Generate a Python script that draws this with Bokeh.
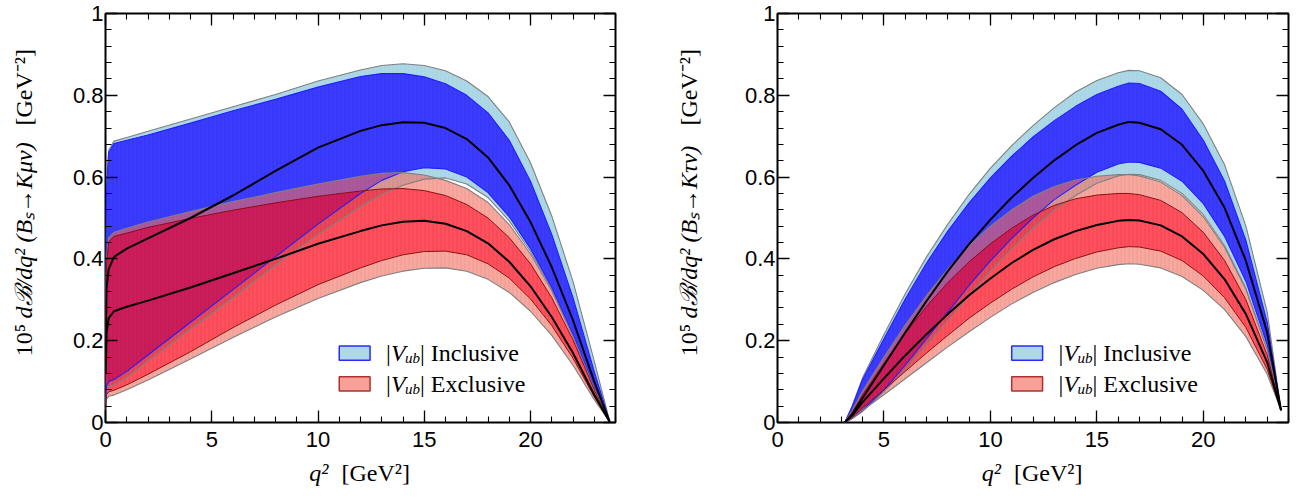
import math
from bokeh.plotting import figure
from bokeh.layouts import row, column
from bokeh.models import (Range1d, Label, FixedTicker, LinearAxis,
                          CustomJSTickFormatter)
from bokeh.embed import file_html
from bokeh.resources import INLINE

# ---------------- data: B_s -> K mu nu (left panel) ----------------
Q_MU = [0.011, 0.05, 0.15, 0.4, 1, 2, 4, 6, 8, 10, 12, 13, 14, 15, 16, 17,
        18, 19, 20, 21, 22, 23, 23.74]
MU_INC_OUT_HI = [0.30, 0.58, 0.665, 0.688, 0.697, 0.712, 0.742, 0.772, 0.802, 0.835, 0.862, 0.873, 0.877, 0.873, 0.860, 0.835, 0.797, 0.735, 0.635, 0.505, 0.345, 0.150, 0.0]
MU_INC_IN_HI = [0.30, 0.575, 0.66, 0.682, 0.69, 0.703, 0.732, 0.762, 0.79, 0.82, 0.846, 0.853, 0.853, 0.845, 0.828, 0.80, 0.757, 0.69, 0.59, 0.46, 0.305, 0.125, 0.0]
MU_INC_MID = [0.18, 0.33, 0.375, 0.405, 0.425, 0.45, 0.50, 0.555, 0.615, 0.672, 0.713, 0.727, 0.734, 0.733, 0.72, 0.693, 0.648, 0.58, 0.49, 0.38, 0.25, 0.10, 0.0]
MU_INC_IN_LO = [0.05, 0.09, 0.1, 0.105, 0.125, 0.165, 0.245, 0.325, 0.405, 0.485, 0.56, 0.592, 0.613, 0.623, 0.62, 0.60, 0.562, 0.503, 0.425, 0.33, 0.215, 0.085, 0.0]
MU_INC_OUT_LO = [0.045, 0.08, 0.088, 0.092, 0.11, 0.15, 0.228, 0.305, 0.385, 0.46, 0.528, 0.558, 0.58, 0.595, 0.598, 0.583, 0.55, 0.493, 0.418, 0.325, 0.21, 0.082, 0.0]
MU_EXC_OUT_HI = [0.20, 0.40, 0.452, 0.465, 0.475, 0.49, 0.516, 0.54, 0.562, 0.583, 0.602, 0.609, 0.611, 0.605, 0.592, 0.572, 0.538, 0.484, 0.412, 0.322, 0.21, 0.083, 0.0]
MU_EXC_IN_HI = [0.19, 0.39, 0.442, 0.455, 0.463, 0.477, 0.499, 0.519, 0.537, 0.553, 0.566, 0.571, 0.572, 0.567, 0.555, 0.533, 0.50, 0.452, 0.388, 0.305, 0.202, 0.08, 0.0]
MU_EXC_MID = [0.12, 0.22, 0.255, 0.272, 0.283, 0.298, 0.33, 0.365, 0.40, 0.437, 0.468, 0.482, 0.491, 0.493, 0.486, 0.468, 0.438, 0.393, 0.333, 0.258, 0.17, 0.068, 0.0]
MU_EXC_IN_LO = [0.035, 0.068, 0.075, 0.079, 0.092, 0.118, 0.173, 0.232, 0.287, 0.337, 0.378, 0.396, 0.41, 0.418, 0.419, 0.41, 0.388, 0.353, 0.302, 0.237, 0.157, 0.063, 0.0]
MU_EXC_OUT_LO = [0.03, 0.058, 0.064, 0.067, 0.08, 0.104, 0.155, 0.208, 0.258, 0.303, 0.342, 0.358, 0.37, 0.377, 0.378, 0.37, 0.35, 0.318, 0.272, 0.213, 0.14, 0.056, 0.0]

# ---------------- data: B_s -> K tau nu (right panel) ----------------
Q_TAU = [3.16, 3.5, 4, 5, 6, 7, 8, 9, 10, 11, 12, 13, 14, 15, 16, 16.5, 17,
         18, 19, 20, 21, 22, 23, 23.65]
TAU_INC_OUT_HI = [0, 0.04, 0.11, 0.215, 0.315, 0.405, 0.485, 0.558, 0.622, 0.677, 0.726, 0.77, 0.808, 0.836, 0.855, 0.861, 0.86, 0.843, 0.802, 0.73, 0.63, 0.48, 0.27, 0.03]
TAU_INC_IN_HI = [0, 0.038, 0.105, 0.205, 0.302, 0.39, 0.468, 0.537, 0.598, 0.651, 0.698, 0.738, 0.773, 0.802, 0.822, 0.83, 0.829, 0.81, 0.766, 0.69, 0.59, 0.445, 0.245, 0.03]
TAU_INC_MID = [0, 0.02, 0.06, 0.14, 0.22, 0.297, 0.37, 0.436, 0.496, 0.55, 0.598, 0.641, 0.678, 0.708, 0.728, 0.735, 0.733, 0.717, 0.679, 0.615, 0.525, 0.395, 0.22, 0.03]
TAU_INC_IN_LO = [0, 0.01, 0.03, 0.08, 0.14, 0.205, 0.27, 0.335, 0.395, 0.45, 0.50, 0.545, 0.58, 0.612, 0.632, 0.637, 0.636, 0.622, 0.59, 0.535, 0.455, 0.345, 0.19, 0.03]
TAU_INC_OUT_LO = [0, 0.009, 0.027, 0.075, 0.13, 0.19, 0.25, 0.31, 0.37, 0.425, 0.475, 0.52, 0.555, 0.585, 0.603, 0.607, 0.606, 0.592, 0.56, 0.508, 0.432, 0.328, 0.18, 0.03]
TAU_EXC_OUT_HI = [0, 0.028, 0.077, 0.16, 0.238, 0.31, 0.375, 0.432, 0.48, 0.52, 0.553, 0.577, 0.593, 0.602, 0.606, 0.606, 0.603, 0.588, 0.555, 0.503, 0.428, 0.325, 0.178, 0.03]
TAU_EXC_IN_HI = [0, 0.024, 0.068, 0.145, 0.218, 0.284, 0.342, 0.393, 0.437, 0.475, 0.507, 0.531, 0.547, 0.556, 0.56, 0.56, 0.557, 0.543, 0.513, 0.465, 0.396, 0.30, 0.165, 0.03]
TAU_EXC_MID = [0, 0.017, 0.05, 0.108, 0.164, 0.216, 0.265, 0.311, 0.352, 0.39, 0.422, 0.448, 0.468, 0.483, 0.493, 0.495, 0.494, 0.482, 0.455, 0.412, 0.35, 0.265, 0.147, 0.03]
TAU_EXC_IN_LO = [0, 0.012, 0.036, 0.08, 0.125, 0.17, 0.213, 0.255, 0.292, 0.326, 0.356, 0.381, 0.401, 0.417, 0.427, 0.43, 0.429, 0.419, 0.396, 0.358, 0.305, 0.232, 0.13, 0.03]
TAU_EXC_OUT_LO = [0, 0.01, 0.03, 0.068, 0.107, 0.146, 0.185, 0.222, 0.257, 0.29, 0.318, 0.342, 0.362, 0.377, 0.386, 0.388, 0.387, 0.378, 0.357, 0.323, 0.276, 0.21, 0.118, 0.03]

# ---------------- axes / labels ----------------
X_MAJOR = [0, 5, 10, 15, 20]
X_MINOR = list(range(0, 25))
Y_MAJOR = [0, 0.2, 0.4, 0.6, 0.8, 1.0]
Y_MINOR = [round(0.04 * i, 2) for i in range(26)]
LEGEND_NAMES = ["Inclusive", "Exclusive"]

LIGHT_BLUE = "#add8e6"
BLUE = "#3c3cff"
RED = "#ff1424"
LIGHT_RED = "#f26e5f"
SERIF = "Liberation Serif"
SANS = "Liberation Sans"
TICK_SIZE = "22px"

H_TOP = 458          # height of the plot row
TOP_B, FRAME_H = 13, 409


def style_axis(ax, labels=True, vertical=False):
    ax.axis_line_color = None
    ax.major_tick_out = 0
    ax.minor_tick_out = 0
    ax.major_tick_in = 12
    ax.minor_tick_in = 6
    ax.major_tick_line_width = 1.3
    ax.minor_tick_line_width = 1.1
    ax.major_tick_line_color = "black"
    ax.minor_tick_line_color = "black"
    ax.axis_label = None
    if labels:
        ax.major_label_text_font = SANS
        ax.major_label_text_font_size = TICK_SIZE
        ax.major_label_text_color = "black"
        ax.major_label_standoff = 2 if vertical else 9
        ax.formatter = CustomJSTickFormatter(
            code="return String(Math.round(tick*10)/10)")
    else:
        ax.major_label_standoff = 0
        ax.formatter = CustomJSTickFormatter(code="return ''")


def add_text(p, text, x, y, size, italic=False, align="left",
             baseline="middle", angle=0.0, dx=0, dy=0):
    p.add_layout(Label(x=x, y=y, text=text, text_font=SERIF,
                       text_font_size=f"{size}px",
                       text_font_style="italic" if italic else "normal",
                       text_align=align, text_baseline=baseline,
                       angle=angle, x_offset=dx, y_offset=dy,
                       text_color="black"))


def blank(width, height):
    f = figure(width=width, height=height, x_range=Range1d(0, width),
               y_range=Range1d(0, height), output_backend="svg",
               toolbar_location=None, min_border=0,
               x_axis_location=None, y_axis_location=None)
    f.grid.visible = False
    f.outline_line_color = None
    return f


def ylabel_fig(width, xc, decay):
    f = blank(width, H_TOP)
    yc = H_TOP - (TOP_B + FRAME_H / 2)
    ang = math.pi / 2
    fs = 24
    w_left, gap1, w_mid, gap2, w_right = 30, 6, 206, 10, 68
    L = w_left + gap1 + w_mid + gap2 + w_right
    s_mid = yc - L / 2 + w_left + gap1
    add_text(f, "10\u2075", xc, s_mid - gap1, fs, align="right", angle=ang)
    add_text(f, "d\u212c/dq\u00b2 (B\u209b\u2192K" + decay + "\u03bd)", xc, s_mid,
             fs, italic=True, align="left", angle=ang)
    add_text(f, "[GeV\u207b\u00b2]", xc, s_mid + w_mid + gap2, fs,
             align="left", angle=ang)
    return f


def xlabel_fig(width, height, xc, yc):
    f = blank(width, height)
    j = xc - 32
    add_text(f, "q\u00b2", j, yc, 24, italic=True, align="right")
    add_text(f, "[GeV\u00b2]", j + 13, yc, 24, align="left")
    return f


def build(q, inc, exc, width, bl, br):
    p = figure(width=width, height=H_TOP, x_range=Range1d(0, 24),
               y_range=Range1d(0, 1), output_backend="svg",
               toolbar_location=None, min_border_left=bl,
               min_border_right=br, min_border_top=TOP_B,
               min_border_bottom=H_TOP - TOP_B - FRAME_H)
    p.grid.visible = False
    p.outline_line_color = "black"
    p.outline_line_width = 2
    p.outline_line_alpha = 1.0
    p.background_fill_color = "white"
    p.border_fill_color = "white"

    p.xaxis[0].ticker = FixedTicker(ticks=X_MAJOR, minor_ticks=X_MINOR)
    p.yaxis[0].ticker = FixedTicker(ticks=Y_MAJOR, minor_ticks=Y_MINOR)
    style_axis(p.xaxis[0])
    style_axis(p.yaxis[0], vertical=True)
    top = LinearAxis(ticker=FixedTicker(ticks=X_MAJOR, minor_ticks=X_MINOR))
    right = LinearAxis(ticker=FixedTicker(ticks=Y_MAJOR, minor_ticks=Y_MINOR))
    style_axis(top, labels=False)
    style_axis(right, labels=False)
    p.add_layout(top, "above")
    p.add_layout(right, "right")

    i_ohi, i_ihi, i_mid, i_ilo, i_olo = inc
    e_ohi, e_ihi, e_mid, e_ilo, e_olo = exc
    stripes = dict(hatch_pattern="vertical_line", hatch_scale=4,
                   hatch_weight=1, hatch_alpha=0.12)

    # fills
    p.varea(x=q, y1=i_olo, y2=i_ohi, fill_color=LIGHT_BLUE, fill_alpha=1.0,
            hatch_color="#7fb0c0", **stripes)
    p.varea(x=q, y1=i_ilo, y2=i_ihi, fill_color=BLUE, fill_alpha=1.0,
            hatch_color="#0000a0", **stripes)
    p.varea(x=q, y1=e_ihi, y2=e_ohi, fill_color=LIGHT_RED, fill_alpha=0.6,
            hatch_color="#c04040", **stripes)
    p.varea(x=q, y1=e_olo, y2=e_ilo, fill_color=LIGHT_RED, fill_alpha=0.6,
            hatch_color="#c04040", **stripes)
    p.varea(x=q, y1=e_ilo, y2=e_ihi, fill_color=RED, fill_alpha=0.74,
            hatch_color="#800000", **stripes)

    # edges
    for ys in (i_ohi, i_olo):
        p.line(q, ys, line_color="#808080", line_width=1.1)
    for ys in (i_ihi, i_ilo):
        p.line(q, ys, line_color="#2020ff", line_width=1.1)
    for ys in (e_ohi, e_olo):
        p.line(q, ys, line_color="#808080", line_width=1.1)
    for ys in (e_ihi, e_ilo):
        p.line(q, ys, line_color="#8b1010", line_width=1.0)
    p.line(q, i_mid, line_color="black", line_width=2)
    p.line(q, e_mid, line_color="black", line_width=2)

    # legend
    p.quad(left=[11.0], right=[12.45], bottom=[0.152], top=[0.187],
           fill_color=LIGHT_BLUE, line_color="#2a2aff", line_width=1.5)
    p.quad(left=[11.0], right=[12.45], bottom=[0.077], top=[0.112],
           fill_color="#f7a199", line_color="#b03030", line_width=1.5)
    for yy, name in zip([0.1695, 0.0945], LEGEND_NAMES):
        add_text(p, "|", 13.2, yy, 24)
        add_text(p, "V", 13.2, yy, 24, italic=True, dx=5)
        add_text(p, "ub", 13.2, yy, 15, italic=True, dx=19, dy=-5)
        add_text(p, "| " + name, 13.2, yy, 24, dx=34)
    return p


# layout: [ylab1 | plot1 | ylab2 | plot2] over [xlab1 | xlab2]
YL1_W, P1_W, YL2_W, P2_W = 50, 600, 56, 592
p1 = build(Q_MU,
           (MU_INC_OUT_HI, MU_INC_IN_HI, MU_INC_MID, MU_INC_IN_LO, MU_INC_OUT_LO),
           (MU_EXC_OUT_HI, MU_EXC_IN_HI, MU_EXC_MID, MU_EXC_IN_LO, MU_EXC_OUT_LO),
           P1_W, 55, 35)
p2 = build(Q_TAU,
           (TAU_INC_OUT_HI, TAU_INC_IN_HI, TAU_INC_MID, TAU_INC_IN_LO, TAU_INC_OUT_LO),
           (TAU_EXC_OUT_HI, TAU_EXC_IN_HI, TAU_EXC_MID, TAU_EXC_IN_LO, TAU_EXC_OUT_LO),
           P2_W, 71, 10)
yl1 = ylabel_fig(YL1_W, 23, "\u03bc")
yl2 = ylabel_fig(YL2_W, 38, "\u03c4")
XH = 488 - H_TOP
xl1 = xlabel_fig(YL1_W + P1_W, XH, 360, 16)
xl2 = xlabel_fig(YL2_W + P2_W, XH, 382.5, 16)

layout = column(row(yl1, p1, yl2, p2), row(xl1, xl2))
open("out.html", "w").write(file_html(layout, INLINE))
